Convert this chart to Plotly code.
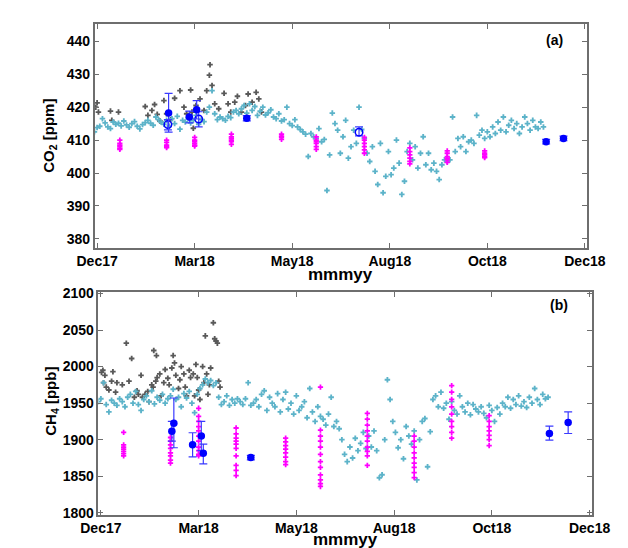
import pandas as pd
import plotly.graph_objects as go

# ---------------- data ----------------
DAY0 = "2017-12-25"                       # day 0 of the record
TICK_DAYS = [0, 73, 146, 219, 292, 365]
TICK_LABELS = ["Dec17", "Mar18", "May18", "Aug18", "Oct18", "Dec18"]
X_RANGE_DAYS = [-1.8, 366.5]
X_TITLE = "mmmyy"
CO2_TITLE = "CO<sub>2</sub> [ppm]"
CH4_TITLE = "CH<sub>4</sub> [ppb]"

DAILY_FIRST_DAY = -2
DAILY_STEP_DAYS = 2

# (a) CO2 [ppm] - in-situ daily values (cyan)
CO2_DAILY = [
    412.5, 413.8, 414.2, 416.5, 415.2, 414.0, 413.5, 415.5, 414.8, 415.1, 414.3, 415.8, 414.6, 413.9,
    415.0, 415.6, 414.2, 413.4, 414.7, 415.3, 416.0, 415.1, 414.5, 417.0, 416.2, 415.4, 414.8,
    416.0, 414.2, 416.5, 415.0, 417.2, 413.3, 416.0, 415.5, 416.8, 415.2, 416.0, 417.5, 414.8, 416.2, 415.6,
    418.5, 420.0, 425.0, 418.0, 416.2, 417.0, 416.5, 416.0, 417.2, 416.8, 418.5, 419.0,
    418.0, 419.5, 420.5, 418.2, 421.0, 419.0, 420.2, 417.5, 418.8, 420.0, 417.6, 418.3, 419.2,
    417.0, 416.5, 418.0, 415.8, 416.2, 420.0, 415.0, 414.4, 416.2, 414.0,
    413.2, 412.5, 411.8, 405.0, 412.0, 411.0, 410.5, 413.5, 409.5, 410.2, 394.7,
    405.5, 418.2, 415.0, 413.0, 406.0, 411.0, 416.0, 404.5, 408.0, 413.0, 409.0, 420.0,
    413.2, 410.5, 406.0, 403.5, 408.0, 400.5, 396.5, 409.0, 394.0, 399.0,
    406.5, 399.5, 401.5, 410.0, 403.0, 393.5, 397.5, 406.5, 409.0, 404.0, 408.0, 401.5, 406.0, 411.0,
    402.5, 406.0, 401.0, 403.0, 400.5, 398.0, 402.5, 404.0, 403.5, 404.0, 417.0,
    406.5, 410.5, 408.0, 411.0, 406.5, 409.5, 410.0, 409.0, 417.5, 411.5, 413.0, 410.5,
    412.5, 411.0, 414.0, 412.0, 415.5, 413.0, 417.0, 412.5, 414.5, 416.0, 413.5, 415.0, 412.0, 414.0,
    417.0, 415.0, 413.0, 416.0, 414.0, 413.5, 415.5, 414.0,
]

# (a) CO2 - second in-situ record (dark grey)
CO2_GRAY_DAYS = [-1, 0, 1, 10, 11, 16, 36, 38, 41, 43, 45, 47, 50, 52, 55, 58, 62, 65, 67, 70, 71,
                 72, 74, 77, 80, 82, 84, 84.5, 86, 88, 91, 95, 98, 100, 103, 105, 108, 111, 113,
                 116, 119, 121, 123]
CO2_GRAY = [420.0, 421.3, 418.5, 418.8, 416.0, 418.5, 420.2, 417.5, 419.0, 420.8, 417.8, 415.8,
            422.0, 418.0, 416.2, 422.7, 425.0, 420.0, 418.0, 425.2, 418.5, 413.6, 420.5, 422.5,
            419.0, 425.0, 429.7, 432.9, 426.6, 421.0, 419.5, 424.2, 421.0, 418.5, 421.5, 423.3,
            418.5, 420.5, 424.0, 421.5, 424.5, 422.5, 418.5]

# (a) CO2 - flask samples (magenta), one column per sampling day
CO2_FLASK_DAYS = [17, 52, 73, 100.5, 138, 164, 200, 234, 262, 290]
CO2_FLASK = [
    [410.0, 409.0, 408.5, 408.0, 407.5, 407.2],
    [410.0, 409.3, 408.5, 408.0, 407.7],
    [410.8, 410.0, 409.5, 409.0, 408.5, 408.2],
    [411.8, 411.0, 410.5, 410.0, 409.5, 408.7],
    [411.8, 411.2, 410.8, 410.2],
    [411.0, 410.0, 409.5, 409.0, 408.0, 407.2],
    [410.8, 410.0, 409.0, 408.0, 407.0, 406.0],
    [407.6, 406.5, 405.5, 404.5, 403.5, 402.8],
    [406.7, 406.0, 405.0, 404.5, 404.0, 403.2],
    [406.7, 406.0, 405.5, 405.0, 404.7],
]

# (a) CO2 - campaign means with error bars (blue, filled / open)
CO2_MEAN_DAYS = [53.5, 69, 74.5, 112, 336, 349]
CO2_MEAN = [418.2, 417.0, 419.2, 416.6, 409.5, 410.5]
CO2_MEAN_ERR_UP = [6.0, 1.8, 2.8, 0.8, 0.7, 0.7]
CO2_MEAN_ERR_DN = [5.8, 1.8, 2.8, 0.8, 0.7, 0.7]
CO2_OPEN_DAYS = [53, 76, 196]
CO2_OPEN = [414.7, 416.4, 412.4]
CO2_OPEN_ERR_UP = [1.5, 2.2, 1.6]
CO2_OPEN_ERR_DN = [1.6, 2.4, 1.1]

# (b) CH4 [ppb] - in-situ daily values (cyan)
CH4_DAILY = [
    1952, 1956, 1978, 1948, 1938, 1954, 1950, 1947, 1956, 1952, 1945,
    1958, 1962, 1950, 1966, 1948, 1940, 1955, 1960, 1952, 1967, 1949, 1958, 1954, 1962, 1950, 1956,
    1960, 1969, 1955, 1958, 1945, 1963, 1957, 1966, 1950, 1937,
    1962, 1970, 1975, 1983, 1978, 1981, 1974, 1978,
    1958, 1948, 1952, 1960, 1947, 1955, 1950, 1956,
    1952, 1948, 1956, 1978, 1947, 1950,
    1955, 1945, 1962, 1967, 1940, 1958, 1950, 1945, 1963, 1938, 1955,
    1965, 1942, 1950, 1935, 1960, 1940,
    1945, 1952, 1930, 1970, 1938, 1925, 1945, 1932,
    1928, 1920, 1935, 1958, 1918, 1925, 1915,
    1900, 1880, 1870, 1890, 1875, 1902, 1885,
    1895, 1910, 1888, 1905, 1890, 1912, 1885, 1848, 1852,
    1900, 1982, 1955, 1925, 1910, 1889, 1900, 1874,
    1918, 1905, 1894, 1912, 1845, 1900, 1925,
    1929, 1863, 1911, 1955,
    1960, 1945, 1965, 1943, 1950, 1928,
    1952, 1940, 1935, 1960, 1945, 1938, 1950, 1934, 1948, 1942, 1938,
    1945, 1936, 1930, 1947, 1940, 1925, 1944, 1935,
    1950, 1945, 1958, 1943, 1955, 1948, 1960, 1946, 1952, 1944, 1958, 1950, 1970, 1955, 1948,
    1962, 1956, 1958,
]

# (b) CH4 - second in-situ record (dark grey)
CH4_GRAY_DAYS = [0.5, 1.5, 2, 3, 4, 6, 8, 9, 11, 12, 16, 19, 21, 23, 25, 27, 28, 30, 31, 33, 35, 36,
                 38, 39, 39.5, 41, 41.5, 42, 44, 45, 47, 48, 50, 51, 53, 54, 55, 56, 58, 59, 60, 62,
                 63, 64, 66, 67, 69, 70, 71, 72, 73, 74, 76, 77, 78, 79, 80, 81, 82, 84, 85, 86,
                 87, 88, 89]
CH4_GRAY = [1992, 1995, 1978, 1988, 1972, 1968, 1980, 1993, 1965, 1978, 1975, 2032, 1980, 2011,
            1958, 1967, 1962, 1988, 1958, 1962, 1966, 1952, 1975, 1972, 2022, 1980, 2015, 1985,
            1990, 1960, 1978, 1996, 1984, 1975, 1998, 2015, 2005, 1988, 1970, 1982, 2000, 1990,
            1972, 1960, 1995, 1985, 1990, 1960, 2003, 1985, 1968, 1955, 2000, 1978, 2042, 1990,
            1962, 1975, 1998, 2060, 2038, 2035, 2032, 1980, 1972]

# (b) CH4 - flask samples (magenta)
CH4_FLASK_DAYS = [17, 52, 73, 101, 138, 164, 199, 234, 262, 290]
CH4_FLASK = [
    [1910, 1893, 1890, 1887, 1884, 1881, 1878],
    [1903, 1898, 1893, 1888, 1882, 1878, 1872, 1868],
    [1943, 1932, 1925, 1918, 1912, 1905, 1898, 1890, 1885, 1880, 1878],
    [1916, 1908, 1902, 1898, 1894, 1888, 1878, 1865, 1858, 1851],
    [1902, 1897, 1892, 1887, 1882, 1876, 1870, 1866],
    [1972, 1913, 1905, 1898, 1890, 1880, 1870, 1862, 1852, 1845, 1840, 1836],
    [1936, 1928, 1920, 1912, 1905, 1898, 1890, 1884, 1878, 1865],
    [1905, 1898, 1890, 1882, 1875, 1868, 1862, 1855, 1848],
    [1974, 1965, 1955, 1945, 1935, 1925, 1918, 1910, 1902],
    [1933, 1925, 1918, 1912, 1906, 1900, 1892],
]

# (b) CH4 - campaign means with error bars (blue)
CH4_MEAN_DAYS = [53, 54.5, 68.5, 75, 76.5, 112, 335, 349]
CH4_MEAN = [1911.5, 1922.5, 1893, 1905, 1881.5, 1875.5, 1908.5, 1923.5]
CH4_MEAN_ERR_UP = [13.5, 34.5, 16.5, 20, 12.5, 3, 10, 14.5]
CH4_MEAN_ERR_DN = [13.5, 33.5, 16.5, 20, 14.5, 3, 9, 15]

# ---------------- helpers ----------------
base = pd.Timestamp(DAY0)


def to_dates(days):
    return [base + pd.to_timedelta(d, unit="D") for d in days]


def daily_days(values):
    return [DAILY_FIRST_DAY + i * DAILY_STEP_DAYS for i in range(len(values))]


def flatten(days, cols):
    xs, ys = [], []
    for d, col in zip(days, cols):
        xs += [d] * len(col)
        ys += col
    return xs, ys


CYAN = "#5cb3c9"
GRAY = "#595959"
MAGENTA = "#ff00ff"
BLUE = "#0000ff"
FONT = "Liberation Sans, Arial, sans-serif"

fig = go.Figure()


def add_panel(xa, ya, gray_d, gray_v, daily_v, flask_d, flask_v, mean_d, mean_v, eu, ed,
              open_d=None, open_v=None, oeu=None, oed=None):
    fig.add_trace(go.Scatter(x=to_dates(gray_d), y=gray_v, mode="markers", xaxis=xa, yaxis=ya,
                             marker=dict(symbol="cross", size=4.6, color=GRAY, line=dict(width=0)),
                             showlegend=False))
    fig.add_trace(go.Scatter(x=to_dates(daily_days(daily_v)), y=daily_v, mode="markers",
                             xaxis=xa, yaxis=ya,
                             marker=dict(symbol="cross", size=4.6, color=CYAN, line=dict(width=0)),
                             showlegend=False))
    fx, fy = flatten(flask_d, flask_v)
    fig.add_trace(go.Scatter(x=to_dates(fx), y=fy, mode="markers", xaxis=xa, yaxis=ya,
                             marker=dict(symbol="cross", size=4.4, color=MAGENTA, line=dict(width=0)),
                             showlegend=False))
    if open_d:
        fig.add_trace(go.Scatter(x=to_dates(open_d), y=open_v, mode="markers", xaxis=xa, yaxis=ya,
                                 marker=dict(symbol="circle-open", size=7.5, color=BLUE,
                                             line=dict(width=1.5, color="#2a2aff")),
                                 error_y=dict(type="data", symmetric=False, array=oeu,
                                              arrayminus=oed, color="#3a3aff", thickness=1.2,
                                              width=4),
                                 showlegend=False))
    fig.add_trace(go.Scatter(x=to_dates(mean_d), y=mean_v, mode="markers", xaxis=xa, yaxis=ya,
                             marker=dict(symbol="circle", size=7.5, color=BLUE),
                             error_y=dict(type="data", symmetric=False, array=eu, arrayminus=ed,
                                          color="#3a3aff", thickness=1.2, width=4),
                             showlegend=False))


add_panel("x", "y", CO2_GRAY_DAYS, CO2_GRAY, CO2_DAILY, CO2_FLASK_DAYS, CO2_FLASK,
          CO2_MEAN_DAYS, CO2_MEAN, CO2_MEAN_ERR_UP, CO2_MEAN_ERR_DN,
          CO2_OPEN_DAYS, CO2_OPEN, CO2_OPEN_ERR_UP, CO2_OPEN_ERR_DN)
add_panel("x2", "y2", CH4_GRAY_DAYS, CH4_GRAY, CH4_DAILY, CH4_FLASK_DAYS, CH4_FLASK,
          CH4_MEAN_DAYS, CH4_MEAN, CH4_MEAN_ERR_UP, CH4_MEAN_ERR_DN)

W, H = 628, 548
axis_common = dict(showline=True, linecolor="#6e6e6e", linewidth=1.5, mirror="ticks",
                   ticks="inside", ticklen=5, tickcolor="#6e6e6e", tickwidth=1.2,
                   showgrid=False, zeroline=False,
                   tickfont=dict(family=FONT, size=14, color="black", weight="bold"))

xcommon = dict(axis_common, type="date", tickmode="array",
               tickvals=to_dates(TICK_DAYS), ticktext=TICK_LABELS,
               range=to_dates(X_RANGE_DAYS))

title_font = dict(family=FONT, size=17, color="black", weight="bold")
ytitle_font = dict(family=FONT, size=15, color="black", weight="bold")
label_font = dict(family=FONT, size=14, color="black", weight="bold")


def note(text, px, py, font, angle=0):
    return dict(text=text, xref="paper", yref="paper", x=px / W, y=1 - py / H,
                xanchor="center", yanchor="middle", showarrow=False, font=font,
                textangle=angle)


fig.update_layout(
    width=W, height=H, margin=dict(l=0, r=0, t=0, b=0),
    paper_bgcolor="white", plot_bgcolor="white",
    xaxis=dict(xcommon, domain=[73 / W, 596 / W], anchor="y"),
    yaxis=dict(axis_common, domain=[1 - 239 / H, 1 - 10.7 / H], anchor="x",
               range=[377.3, 445.1], tickvals=[380, 390, 400, 410, 420, 430, 440]),
    xaxis2=dict(xcommon, domain=[77 / W, 601 / W], anchor="y2"),
    yaxis2=dict(axis_common, domain=[1 - 512 / H, 1 - 284 / H], anchor="x2",
                range=[1797.3, 2102.3], tickvals=[1800, 1850, 1900, 1950, 2000, 2050, 2100]),
    annotations=[
        note("(a)", 562, 27, label_font),
        note("(b)", 566, 298, label_font),
        note(X_TITLE, 334.5, 266, title_font),
        note(X_TITLE, 339, 537, title_font),
        note(CO2_TITLE, 25, 125, ytitle_font, -90),
        note(CH4_TITLE, 27, 396, ytitle_font, -90),
    ],
)

fig.write_html("out.html")
